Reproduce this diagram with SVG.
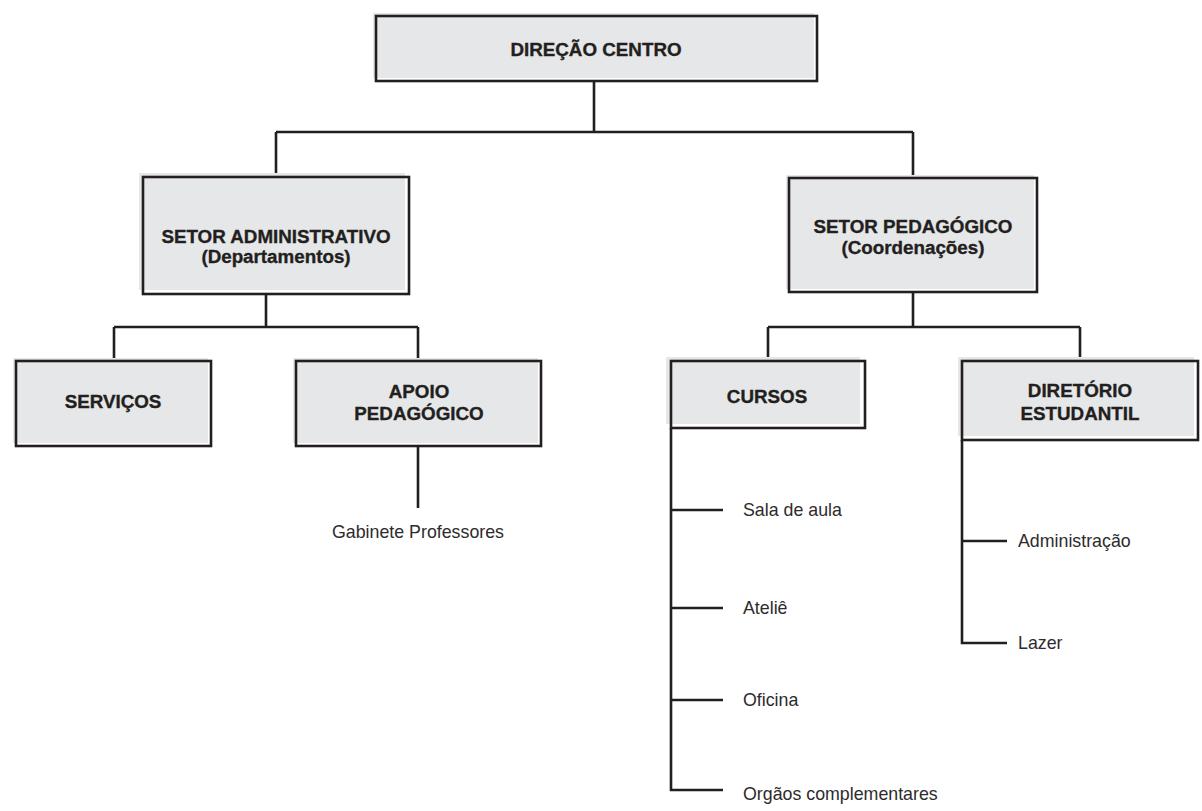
<svg xmlns="http://www.w3.org/2000/svg" width="1202" height="811" viewBox="0 0 1202 811">
<style>
.bg{fill:#e6e7e8}
.bd{fill:none;stroke:#231f20;stroke-width:2.6}
.ln{fill:none;stroke:#231f20;stroke-width:2.6}
.b{font-family:"Liberation Sans",Arial,sans-serif;font-weight:bold;font-size:18.8px;fill:#231f20;stroke:#231f20;stroke-width:0.35;text-anchor:middle}
.t{font-family:"Liberation Sans",Arial,sans-serif;font-size:17.8px;fill:#2e2b2c}
</style>
<rect width="1202" height="811" fill="#ffffff"/>
<g id="connectors">
<path class="ln" d="M594 81V132M276 132H913M276 132V177M913 132V178"/>
<path class="ln" d="M266 294V327M114 327H418M114 327V361M418 327V361M418 446V508"/>
<path class="ln" d="M913 292V327M768 327H1080M768 327V362M1080 327V361"/>
<path class="ln" d="M671 428V790H723M671 510H723M671 608H723M671 700H723"/>
<path class="ln" d="M962 440V643H1007M962 541H1007"/>
</g>
<g id="direcao">
<rect class="bg" x="373" y="13" width="441" height="65"/>
<rect class="bd" x="376" y="16" width="441" height="65"/>
<text class="b" x="596" y="56">DIREÇÃO CENTRO</text>
</g>
<g id="setor-administrativo">
<rect class="bg" x="139" y="173" width="266" height="117"/>
<rect class="bd" x="143" y="177" width="266" height="117"/>
<text class="b" x="276" y="243">SETOR ADMINISTRATIVO</text>
<text class="b" x="276" y="263">(Departamentos)</text>
</g>
<g id="setor-pedagogico">
<rect class="bg" x="786" y="175" width="248" height="114"/>
<rect class="bd" x="789" y="178" width="248" height="114"/>
<text class="b" x="913" y="233">SETOR PEDAGÓGICO</text>
<text class="b" x="913" y="254">(Coordenações)</text>
</g>
<g id="servicos">
<rect class="bg" x="13" y="358" width="195" height="85"/>
<rect class="bd" x="16" y="361" width="195" height="85"/>
<text class="b" x="113" y="408">SERVIÇOS</text>
</g>
<g id="apoio-pedagogico">
<rect class="bg" x="293" y="358" width="245" height="85"/>
<rect class="bd" x="296" y="361" width="245" height="85"/>
<text class="b" x="419" y="398">APOIO</text>
<text class="b" x="419" y="420">PEDAGÓGICO</text>
</g>
<g id="gabinete">
<text class="t" x="418" y="538" text-anchor="middle">Gabinete Professores</text>
</g>
<g id="cursos">
<rect class="bg" x="666" y="357" width="194" height="67"/>
<rect class="bd" x="671" y="361" width="194" height="67"/>
<text class="b" x="767" y="403">CURSOS</text>
</g>
<g id="diretorio-estudantil">
<rect class="bg" x="958" y="357" width="236" height="79"/>
<rect class="bd" x="962" y="361" width="236" height="79"/>
<text class="b" x="1080" y="397">DIRETÓRIO</text>
<text class="b" x="1080" y="420">ESTUDANTIL</text>
</g>
<g id="sala-de-aula"><text class="t" x="743" y="516">Sala de aula</text></g>
<g id="atelie"><text class="t" x="743" y="614">Ateliê</text></g>
<g id="oficina"><text class="t" x="743" y="706">Oficina</text></g>
<g id="orgaos"><text class="t" x="743" y="800">Orgãos complementares</text></g>
<g id="administracao"><text class="t" x="1018" y="547">Administração</text></g>
<g id="lazer"><text class="t" x="1018" y="649">Lazer</text></g>
</svg>
